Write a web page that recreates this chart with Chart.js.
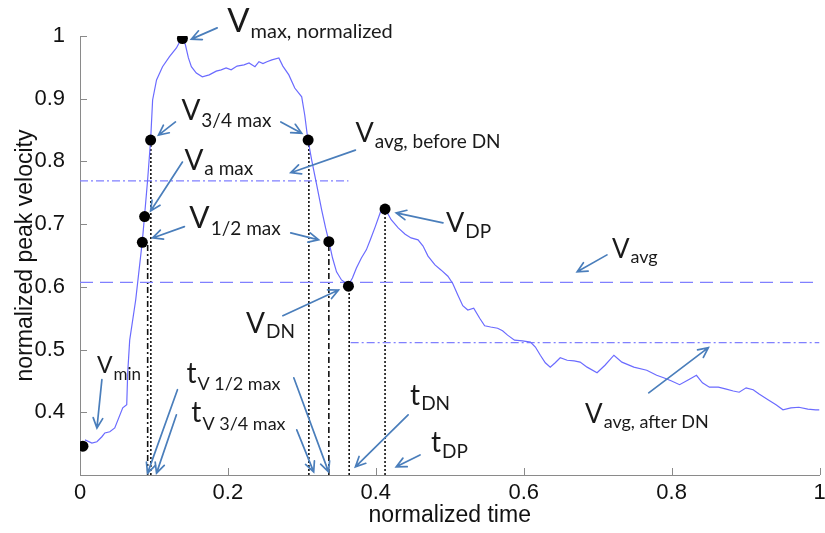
<!DOCTYPE html>
<html>
<head>
<meta charset="utf-8">
<script src="https://cdn.jsdelivr.net/npm/chart.js"></script>
<style>
  html, body { margin: 0; padding: 0; background: #fff; }
  #wrap { width: 825px; height: 533px; }
</style>
</head>
<body>
<div id="wrap"><canvas id="velocityChart"></canvas></div>
<script>
// normalized peak velocity curve
const timeVals = [0.0067, 0.0161, 0.0229, 0.0296, 0.0336, 0.0403, 0.047, 0.0578, 0.0632, 0.0645, 0.0672,
  0.0753, 0.0843, 0.0874, 0.0914, 0.0955, 0.0982, 0.1035, 0.1116, 0.121, 0.1304, 0.1385, 0.1425, 0.1466,
  0.1506, 0.1573, 0.1654, 0.1748, 0.1842, 0.1909, 0.1976, 0.2044, 0.2124, 0.2218, 0.2286, 0.2366, 0.242,
  0.2474, 0.2528, 0.2595, 0.2689, 0.2743, 0.2824, 0.2904, 0.2998, 0.3039, 0.3079, 0.3133, 0.32, 0.3267,
  0.3321, 0.3361, 0.3415, 0.3469, 0.3536, 0.363, 0.3684, 0.3738, 0.3805, 0.3872, 0.3926, 0.3993, 0.4074,
  0.4114, 0.4208, 0.4303, 0.4397, 0.4477, 0.4571, 0.4639, 0.4706, 0.48, 0.4881, 0.4975, 0.5042, 0.5109,
  0.5176, 0.5244, 0.5324, 0.5405, 0.5472, 0.5553, 0.5647, 0.5714, 0.5782, 0.5876, 0.5983, 0.6091, 0.6158,
  0.6225, 0.6292, 0.6359, 0.6426, 0.6494, 0.6588, 0.6682, 0.6763, 0.6857, 0.6992, 0.7099, 0.722, 0.7328,
  0.7489, 0.7664, 0.7798, 0.7892, 0.8, 0.8108, 0.8229, 0.8336, 0.8417, 0.8511, 0.8632, 0.874, 0.8834,
  0.8914, 0.9008, 0.9103, 0.9183, 0.9304, 0.9412, 0.9506, 0.9613, 0.9721, 0.9842, 0.9949, 1.0];
const velVals = [0.356, 0.351, 0.353, 0.361, 0.367, 0.369, 0.375, 0.407, 0.412, 0.463, 0.515,
  0.579, 0.673, 0.715, 0.770, 0.834, 0.898, 0.930, 0.951, 0.967, 0.981, 0.999, 0.986, 0.965,
  0.951, 0.941, 0.935, 0.938, 0.944, 0.946, 0.949, 0.946, 0.952, 0.954, 0.957, 0.951, 0.959,
  0.956, 0.959, 0.962, 0.965, 0.952, 0.938, 0.917, 0.903, 0.874, 0.837, 0.802, 0.763, 0.723,
  0.694, 0.675, 0.646, 0.624, 0.611, 0.603, 0.614, 0.630, 0.646, 0.659, 0.675, 0.696, 0.723,
  0.727, 0.707, 0.694, 0.684, 0.678, 0.675, 0.665, 0.649, 0.635, 0.627, 0.617, 0.605, 0.587,
  0.570, 0.563, 0.566, 0.550, 0.538, 0.536, 0.534, 0.530, 0.523, 0.515, 0.514, 0.512, 0.504,
  0.491, 0.479, 0.472, 0.479, 0.487, 0.483, 0.482, 0.480, 0.472, 0.463, 0.475, 0.491, 0.480,
  0.472, 0.467, 0.459, 0.455, 0.450, 0.444, 0.452, 0.459, 0.447, 0.440, 0.440, 0.437, 0.434,
  0.432, 0.439, 0.436, 0.429, 0.420, 0.412, 0.404, 0.407, 0.408, 0.405, 0.404, 0.404];

// marked points: Vmin, V1/2 rise, Va max, V3/4 rise, Vmax, V3/4 fall, V1/2 fall, VDN, VDP
const keyT = [0.004, 0.0843, 0.0874, 0.0955, 0.1385, 0.3085, 0.3365, 0.363, 0.4125];
const keyV = [0.346, 0.671, 0.712, 0.834, 0.996, 0.834, 0.672, 0.601, 0.724];

// average levels
const avgLevels = [0.607, 0.769, 0.511];
const avgFrom = [0, 0, 0.366];
const avgTo = [1, 0.363, 1];

// vertical markers down to the time axis
const markT = [0.0915, 0.0958, 0.3095, 0.3365, 0.364, 0.4125];
const markTop = [0.671, 0.834, 0.834, 0.672, 0.601, 0.724];

// axis ticks
const xTicks = [0, 0.2, 0.4, 0.6, 0.8, 1];
const yTicks = [0.4, 0.5, 0.6, 0.7, 0.8, 0.9, 1];

// annotation texts
const labelMain = ['V', 'V', 'V', 'V', 'V', 'V', 'V', 'V', 'V', 't', 't', 't', 't', 'V'];
const labelSub = ['max, normalized', '3/4 max', 'a max', '1/2 max', 'avg, before DN', 'DP', 'avg', 'DN',
  'min', 'V 1/2 max', 'V 3/4 max', 'DN', 'DP', 'avg, after DN'];

// annotation placement (data units) and sizes
const labelAt = [[0.199, 1.0065], [0.1371, 0.8662], [0.1412, 0.7864], [0.1479, 0.6939], [0.3724, 0.8311],
  [0.4948, 0.6876], [0.7193, 0.6461], [0.2245, 0.5265], [0.0229, 0.4627], [0.1439, 0.4467],
  [0.1506, 0.3845], [0.4464, 0.4116], [0.4746, 0.3367], [0.683, 0.3829]];
const labelSize = [[33, 20], [28, 19], [28, 19], [30, 19], [27, 19], [27, 19], [26, 18], [28, 19],
  [23, 17], [28, 18], [28, 18], [28, 19], [28, 19], [26, 18]];
const labelSubDy = [6, 7, 5, 7, 6, 6, 5, 5, 7, 7, 8, 5, 6, 5];
const arrows = [
  [0.1855, 1.013, 0.1506, 0.995], [0.1291, 0.863, 0.1062, 0.842], [0.2716, 0.863, 0.2998, 0.845],
  [0.1385, 0.799, 0.0955, 0.721], [0.1412, 0.696, 0.0982, 0.678], [0.2850, 0.686, 0.3227, 0.675],
  [0.3724, 0.818, 0.2850, 0.782], [0.4908, 0.702, 0.4276, 0.718], [0.7126, 0.651, 0.6723, 0.624],
  [0.2743, 0.554, 0.3496, 0.595], [0.0296, 0.452, 0.0229, 0.375], [0.1318, 0.436, 0.0914, 0.303],
  [0.1304, 0.396, 0.1035, 0.303], [0.2891, 0.455, 0.3361, 0.305], [0.2931, 0.372, 0.316, 0.305],
  [0.4437, 0.396, 0.3724, 0.313], [0.4598, 0.332, 0.4276, 0.313], [0.7691, 0.431, 0.8497, 0.503]
];

const AXIS_GREY = '#8a8a8a';
const CURVE_BLUE = '#6b6bff';
const LINE_BLUE = '#8080ff';
const ARROW_BLUE = '#4a7ebb';

function buildDatasets() {
  const sets = [];
  sets.push({
    data: keyT.map((t, i) => ({ x: t, y: keyV[i] })),
    showLine: false, pointRadius: 5.5, pointBackgroundColor: '#000', pointBorderWidth: 0
  });
  sets.push({
    data: timeVals.map((t, i) => ({ x: t, y: velVals[i] })),
    showLine: true, borderColor: CURVE_BLUE, borderWidth: 1.2, pointRadius: 0, tension: 0
  });
  const avgDash = [[13, 7], [8, 3, 2, 3], [8, 3, 2, 3]];
  avgLevels.forEach((lvl, i) => {
    sets.push({
      data: [{ x: avgFrom[i], y: lvl }, { x: avgTo[i], y: lvl }],
      showLine: true, borderColor: LINE_BLUE, borderWidth: 1.3, borderDash: avgDash[i], pointRadius: 0
    });
  });
  const markDash = [[6, 3, 2, 3], [2, 2], [2, 2], [6, 3, 2, 3], [2, 2], [2, 2]];
  markT.forEach((t, i) => {
    sets.push({
      data: [{ x: t, y: 0.3 }, { x: t, y: markTop[i] }],
      showLine: true, borderColor: '#111', borderWidth: 1.6, borderDash: markDash[i], pointRadius: 0
    });
  });
  return sets;
}

// MATLAB-like inward tick marks
const inwardTicks = {
  id: 'inwardTicks',
  afterDraw(chart) {
    const { ctx, chartArea, scales } = chart;
    ctx.save();
    ctx.strokeStyle = AXIS_GREY;
    ctx.lineWidth = 1;
    xTicks.forEach(v => {
      const px = Math.round(scales.x.getPixelForValue(v)) + 0.5;
      ctx.beginPath();
      ctx.moveTo(px, chartArea.bottom);
      ctx.lineTo(px, chartArea.bottom - 7);
      ctx.stroke();
    });
    yTicks.forEach(v => {
      const py = Math.round(scales.y.getPixelForValue(v)) + 0.5;
      ctx.beginPath();
      ctx.moveTo(chartArea.left, py);
      ctx.lineTo(chartArea.left + 7, py);
      ctx.stroke();
    });
    ctx.restore();
  }
};

// arrows and V/t labels with subscripts
const annotations = {
  id: 'annotations',
  afterDraw(chart) {
    const { ctx, scales } = chart;
    const sx = v => scales.x.getPixelForValue(v);
    const sy = v => scales.y.getPixelForValue(v);
    ctx.save();
    ctx.strokeStyle = ARROW_BLUE;
    ctx.lineWidth = 1.7;
    ctx.lineCap = 'round';
    arrows.forEach(a => {
      const x1 = sx(a[0]), y1 = sy(a[1]), x2 = sx(a[2]), y2 = sy(a[3]);
      const ang = Math.atan2(y2 - y1, x2 - x1);
      const head = 11;
      ctx.beginPath();
      ctx.moveTo(x1, y1);
      ctx.lineTo(x2, y2);
      ctx.moveTo(x2 - head * Math.cos(ang - 0.45), y2 - head * Math.sin(ang - 0.45));
      ctx.lineTo(x2, y2);
      ctx.lineTo(x2 - head * Math.cos(ang + 0.45), y2 - head * Math.sin(ang + 0.45));
      ctx.stroke();
    });

    ctx.fillStyle = '#1a1a1a';
    ctx.textBaseline = 'alphabetic';
    labelMain.forEach((m, i) => {
      const x = sx(labelAt[i][0]), y = sy(labelAt[i][1]);
      ctx.font = labelSize[i][0] + 'px Lato';
      ctx.fillText(m, x, y);
      const w = ctx.measureText(m).width;
      ctx.font = labelSize[i][1] + 'px Lato';
      ctx.fillText(labelSub[i], x + w + 1, y + labelSubDy[i]);
    });
    ctx.restore();
  }
};

const fmtTick = v => String(Math.round(v * 10) / 10);

const ctx = document.getElementById('velocityChart').getContext('2d');
new Chart(ctx, {
  type: 'scatter',
  data: { datasets: buildDatasets() },
  options: {
    responsive: true,
    maintainAspectRatio: false,
    animation: false,
    layout: { padding: { top: 36, right: 2, left: 0, bottom: 0 } },
    plugins: { legend: { display: false }, tooltip: { enabled: false } },
    scales: {
      x: {
        type: 'linear', min: 0, max: 1,
        afterBuildTicks: axis => { axis.ticks = xTicks.map(v => ({ value: v })); },
        afterFit: axis => { axis.height = 58; axis.paddingLeft = 0; axis.paddingRight = 0; },
        grid: { display: false },
        border: { display: true, color: AXIS_GREY, width: 1 },
        ticks: { color: '#111', padding: -3, maxRotation: 0, font: { family: 'Liberation Sans', size: 22 },
          callback: fmtTick },
        title: { display: true, text: 'normalized time', color: '#111', padding: { top: 0, bottom: 4 },
          font: { family: 'Liberation Sans', size: 23 } }
      },
      y: {
        type: 'linear', min: 0.3, max: 1,
        afterBuildTicks: axis => { axis.ticks = yTicks.map(v => ({ value: v })); },
        afterFit: axis => { axis.width = 80; axis.paddingTop = 0; axis.paddingBottom = 0; },
        grid: { display: false },
        border: { display: true, color: AXIS_GREY, width: 1 },
        ticks: { color: '#111', padding: 7, font: { family: 'Liberation Sans', size: 22 },
          callback: fmtTick },
        title: { display: true, text: 'normalized peak velocity', color: '#111', padding: { top: 12, bottom: 0 },
          font: { family: 'Liberation Sans', size: 23 } }
      }
    }
  },
  plugins: [inwardTicks, annotations]
});
</script>
</body>
</html>
